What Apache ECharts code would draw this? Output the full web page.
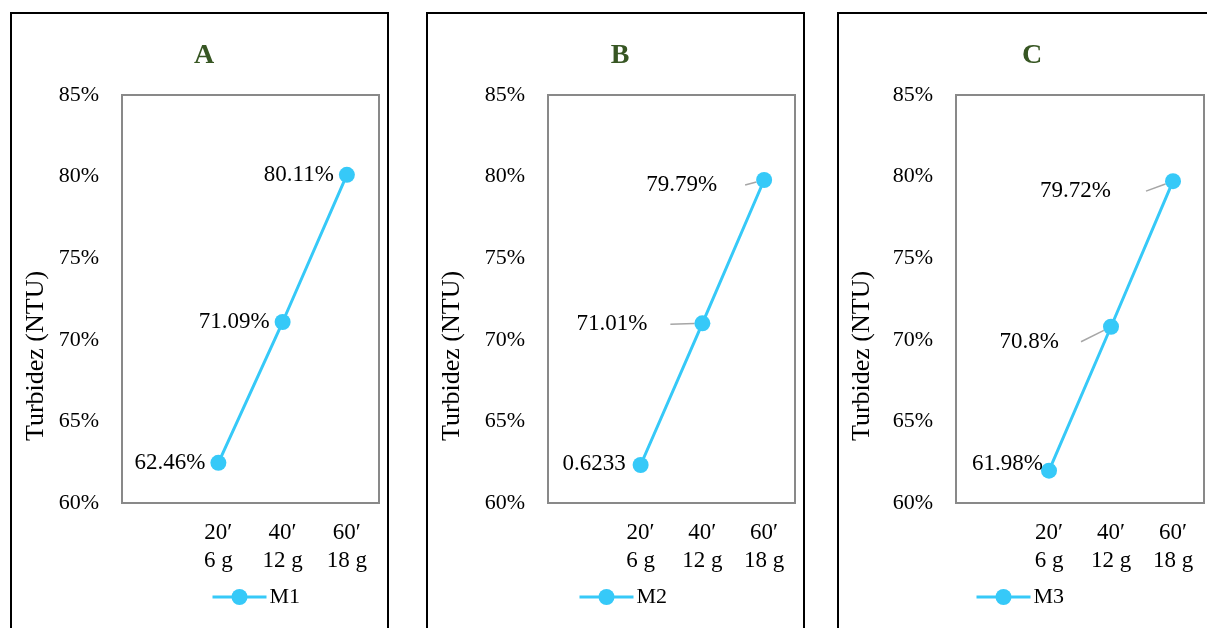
<!DOCTYPE html>
<html>
<head>
<meta charset="utf-8">
<script src="https://cdn.jsdelivr.net/npm/echarts@6/dist/echarts.min.js"></script>
<style>html,body{margin:0;padding:0;background:#fff;}#c{width:1207px;height:628px;}</style>
</head>
<body>
<div id="c"></div>
<script>
// ---- data ----
const categories = ['', '20\u2032\n6 g', '40\u2032\n12 g', '60\u2032\n18 g'];
const panelTitles = ['A', 'B', 'C'];
const seriesNames = ['M1', 'M2', 'M3'];
const m1 = [null, 62.46, 71.09, 80.11];
const m2 = [null, 62.33, 71.01, 79.79];
const m3 = [null, 61.98, 70.8, 79.72];
const labelsM1 = ['', '62.46%', '71.09%', '80.11%'];
const labelsM2 = ['', '0.6233', '71.01%', '79.79%'];
const labelsM3 = ['', '61.98%', '70.8%', '79.72%'];
const yMin = 60, yMax = 85, yStep = 5;
const yAxisTitle = 'Turbidez (NTU)';

// ---- layout (code, not data) ----
const FONT = '"Liberation Serif", "Times New Roman", serif';
const COLOR = '#36C9F8';
const panels = [
  {gridLeft: 122, gridW: 257, titleX: 199, legendX: 211, nameX: 36, boxX: 11, boxW: 377,
   offsets: [[0,0],[0,0],[0,0],[0,0]], pads: [0,0,0,0], leader: false},
  {gridLeft: 548, gridW: 247, titleX: 615, legendX: 578, nameX: 452, boxX: 427, boxW: 377,
   offsets: [[0,0],[-2,-1],[-42,1],[-34,5]], pads: [0,0,23,28], leader: true},
  {gridLeft: 956, gridW: 248, titleX: 1027, legendX: 975, nameX: 862, boxX: 838, boxW: 400,
   offsets: [[0,0],[7,-7],[-39,15],[-49,10]], pads: [0,0,22,35], leader: true}
];
const values = [m1, m2, m3];
const labelTexts = [labelsM1, labelsM2, labelsM3];

const chart = echarts.init(document.getElementById('c'), null, {renderer: 'canvas'});

const option = {
  backgroundColor: '#fff',
  animation: false,
  title: panels.map((p, i) => ({
    text: panelTitles[i], left: p.titleX, top: 37, textAlign: 'center',
    textStyle: {fontFamily: FONT, fontSize: 28, fontWeight: 'bold', color: '#375623'}
  })),
  legend: panels.map((p, i) => ({
    data: [seriesNames[i]], left: p.legendX, top: 586,
    itemWidth: 54, itemHeight: 20, padding: 0,
    lineStyle: {width: 3},
    textStyle: {fontFamily: FONT, fontSize: 22, color: '#000', padding: [0,0,0,-2]}
  })),
  grid: panels.map(p => ({left: p.gridLeft, width: p.gridW, top: 95, height: 408,
    show: true, borderColor: '#898989', borderWidth: 2, backgroundColor: '#fff'})),
  xAxis: panels.map((p, i) => ({
    type: 'category', gridIndex: i, data: categories, boundaryGap: true,
    axisLine: {show: false}, axisTick: {show: false}, splitLine: {show: false},
    axisLabel: {interval: 0, margin: 16, fontFamily: FONT, fontSize: 23, lineHeight: 28, color: '#000'}
  })),
  yAxis: panels.map((p, i) => ({
    type: 'value', gridIndex: i, min: yMin, max: yMax, interval: yStep,
    axisLine: {show: false}, axisTick: {show: false}, splitLine: {show: false},
    axisLabel: {margin: 23, fontFamily: FONT, fontSize: 22, color: '#000', formatter: '{value}%'}
  })),
  series: panels.map((p, i) => ({
    type: 'line', name: seriesNames[i], xAxisIndex: i, yAxisIndex: i,
    data: values[i].map((v, k) => ({
      value: v,
      label: {padding: [0, p.pads[k], 0, 0], backgroundColor: 'rgba(255,255,255,0)'},
      labelLine: {show: p.leader && k >= 2}
    })),
    connectNulls: true,
    symbol: 'circle', symbolSize: 16,
    lineStyle: {color: COLOR, width: 3},
    itemStyle: {color: COLOR},
    label: {
      show: true, position: 'left', distance: 5,
      fontFamily: FONT, fontSize: 23, color: '#000',
      formatter: prm => labelTexts[i][prm.dataIndex]
    },
    labelLine: {show: p.leader, lineStyle: {color: '#A6A6A6', width: 1.5}},
    labelLayout: prm => ({
      dx: p.offsets[prm.dataIndex][0] + p.pads[prm.dataIndex],
      dy: p.offsets[prm.dataIndex][1]
    })
  })),
  graphic: [].concat(
    panels.map(p => ({
      type: 'rect', shape: {x: p.boxX, y: 13, width: p.boxW, height: 660},
      style: {fill: 'none', stroke: '#000', lineWidth: 2}, z: 100
    })),
    panels.map(p => ({
      type: 'text', x: p.nameX, y: 356, rotation: Math.PI / 2,
      style: {text: yAxisTitle, font: '26px ' + FONT, fill: '#000', textAlign: 'center', textVerticalAlign: 'middle'}
    }))
  )
};
chart.setOption(option);
</script>
</body>
</html>
